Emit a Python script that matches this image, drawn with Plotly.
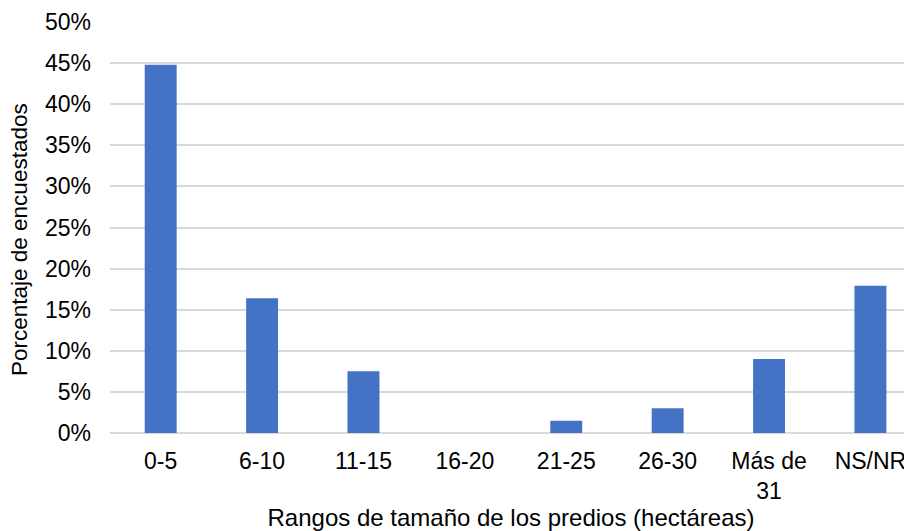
import plotly.graph_objects as go

categories = ["0-5", "6-10", "11-15", "16-20", "21-25", "26-30", "Más de<br>31", "NS/NR"]
values = [44.8, 16.4, 7.5, 0.0, 1.5, 3.0, 9.0, 17.9]
y_ticks = [0, 5, 10, 15, 20, 25, 30, 35, 40, 45, 50]
y_tick_labels = [f"{v}%" for v in y_ticks]

FONT = "Liberation Sans, Arial, sans-serif"

fig = go.Figure(
    go.Bar(
        x=list(range(len(categories))),
        y=values,
        marker=dict(color="#4472C4", line=dict(width=0)),
        width=0.315,
        hoverinfo="skip",
    )
)

# page body has an 8px default margin, so the figure is sized/margined to compensate
fig.update_layout(
    width=904,
    height=523,
    margin=dict(l=102, r=0, t=14, b=98),
    paper_bgcolor="white",
    plot_bgcolor="white",
    showlegend=False,
    font=dict(family=FONT, size=23, color="#000000"),
    annotations=[
        dict(
            text="Porcentaje de encuestados",
            xref="paper", yref="paper",
            x=-0.112, y=0.47,
            xanchor="center", yanchor="middle",
            textangle=-90,
            showarrow=False,
            font=dict(family=FONT, size=22.5, color="#000000"),
        )
    ],
)

fig.update_xaxes(
    tickmode="array",
    tickvals=list(range(len(categories))),
    ticktext=categories,
    range=[-0.5, 7.41],
    showgrid=False,
    showline=False,
    zeroline=False,
    ticks="",
    ticklabelstandoff=12,
    tickfont=dict(family=FONT, size=23, color="#000000"),
    title=dict(
        text="Rangos de tamaño de los predios (hectáreas)",
        font=dict(family=FONT, size=24, color="#000000"),
        standoff=5,
    ),
)

fig.update_yaxes(
    range=[0, 50],
    tickmode="array",
    tickvals=y_ticks,
    ticktext=y_tick_labels,
    showgrid=True,
    gridcolor="#d9d9d9",
    gridwidth=1.5,
    zeroline=True,
    zerolinecolor="#d9d9d9",
    zerolinewidth=1.5,
    showline=False,
    ticks="",
    ticklabelstandoff=18,
    tickfont=dict(family=FONT, size=23, color="#000000"),
)

fig.write_html("out.html")
